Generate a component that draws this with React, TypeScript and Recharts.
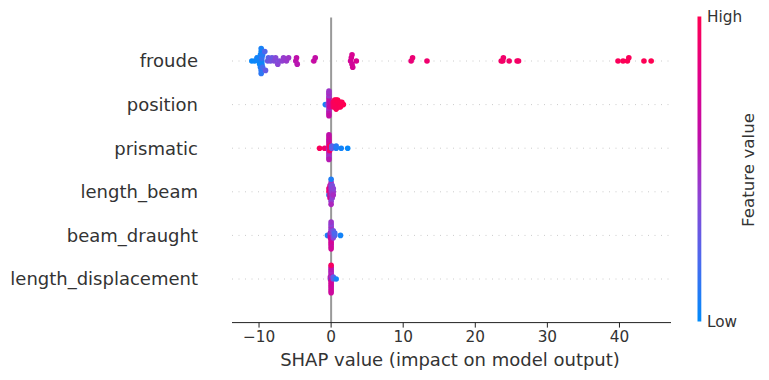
import { Cell, Customized, ReferenceLine, Scatter, ScatterChart, XAxis, YAxis } from 'recharts';

const features = ['froude', 'position', 'prismatic', 'length_beam', 'beam_draught', 'length_displacement'];
const xTicks = [-10, 0, 10, 20, 30, 40];

// shap value / normalised feature value per sample
const froudeShap = [
  -11.0, -10.6, -10.3, -10.1, -9.9, -9.9, -9.8, -9.8, -9.7, -9.7, -9.7, -9.7, -9.6, -9.6, -9.6, -9.5, -9.5,
  -9.2, -9.1, -8.8, -8.7, -8.4, -8.2, -7.9, -7.7, -7.4, -7.2, -6.8, -6.6, -6.2, -5.9, -4.9, -4.8, -4.7,
  -2.4, -2.2, 2.7, 2.8, 2.9, 2.9, 3.0, 3.5, 11.1, 11.3, 13.3, 23.6, 23.8, 23.9, 24.7, 25.8, 26.0,
  39.8, 40.5, 41.1, 41.3, 43.4, 44.4,
];
const froudeValue = [
  0.02, 0.03, 0.05, 0.04, 0.06, 0.02, 0.05, 0.08, 0.03, 0.1, 0.06, 0.12, 0.08, 0.15, 0.04, 0.1, 0.18,
  0.22, 0.28, 0.3, 0.26, 0.33, 0.3, 0.36, 0.38, 0.4, 0.37, 0.42, 0.44, 0.45, 0.47, 0.58, 0.6, 0.57,
  0.64, 0.62, 0.72, 0.74, 0.7, 0.75, 0.73, 0.76, 0.86, 0.88, 0.9, 0.92, 0.93, 0.91, 0.92, 0.94, 0.93,
  0.97, 0.98, 0.99, 0.97, 0.99, 1.0,
];

const positionShap = [
  -0.8, -0.5, -0.3, -0.3, -0.3, -0.3, -0.3, -0.3, -0.3, -0.3, -0.3, -0.3, -0.3, -0.3, -0.2, -0.2, -0.2,
  0.3, 0.3, 0.3, 0.5, 0.5, 0.5, 0.5, 0.7, 0.7, 0.7, 0.7, 0.7, 0.9, 0.9, 0.9, 0.9, 1.1, 1.1, 1.1,
  1.3, 1.3, 1.3, 1.5, 1.5, 1.7,
];
const positionValue = [
  0.05, 0.3, 0.45, 0.5, 0.42, 0.55, 0.48, 0.6, 0.52, 0.44, 0.58, 0.5, 0.62, 0.47, 0.55, 0.6, 0.65,
  0.92, 0.95, 0.93, 0.96, 0.97, 0.95, 0.98, 0.97, 0.96, 0.98, 0.99, 0.97, 0.98, 0.99, 0.97, 1.0, 0.98, 0.99, 0.97,
  1.0, 0.99, 0.98, 1.0, 0.99, 1.0,
];

const prismaticShap = [
  -1.6, -0.9, -0.3, -0.3, -0.3, -0.3, -0.3, -0.3, -0.3, -0.3, -0.3, -0.3, -0.3, -0.3, -0.2, -0.2, -0.2,
  0.1, 0.1, 0.7, 0.7, 1.4, 2.3,
];
const prismaticValue = [
  0.97, 0.9, 0.55, 0.6, 0.5, 0.65, 0.58, 0.7, 0.52, 0.62, 0.48, 0.66, 0.56, 0.6, 0.92, 0.95, 0.9,
  0.3, 0.25, 0.08, 0.1, 0.05, 0.02,
];

const lengthBeamShap = [
  -0.3, -0.3, -0.3, -0.15, -0.15, -0.15, -0.15, -0.15, 0.0, 0.0, 0.0, 0.0, 0.0, 0.0, 0.0, 0.0, 0.0,
  0.15, 0.15, 0.15, 0.15, 0.15, 0.3, 0.3, 0.3,
];
const lengthBeamValue = [
  0.95, 0.9, 0.1, 0.8, 0.75, 0.85, 0.7, 0.78, 0.5, 0.45, 0.55, 0.4, 0.6, 0.48, 0.42, 0.08, 0.52,
  0.4, 0.38, 0.45, 0.35, 0.42, 0.45, 0.4, 0.5,
];

const beamDraughtShap = [
  -0.5, -0.1, -0.1, -0.1, 0.0, 0.0, 0.0, 0.0, 0.0, 0.0, 0.0, 0.0, 0.0, 0.0, 0.0, 0.0, 0.0,
  0.3, 0.3, 0.3, 0.3, 0.5, 0.5, 1.3,
];
const beamDraughtValue = [
  0.08, 0.7, 0.68, 0.72, 0.6, 0.45, 0.65, 0.5, 0.7, 0.42, 0.68, 0.48, 0.72, 0.4, 0.66, 0.46, 0.7,
  0.38, 0.35, 0.4, 0.3, 0.25, 0.2, 0.05,
];

const lengthDispShap = [
  -0.1, -0.1, 0.0, 0.0, 0.0, 0.0, 0.0, 0.0, 0.0, 0.0, 0.0, 0.0, 0.0, 0.0, 0.0, 0.0, 0.0,
  0.3, 0.3, 0.7,
];
const lengthDispValue = [
  0.62, 0.6, 0.08, 0.55, 0.7, 0.5, 0.72, 0.58, 0.68, 0.52, 0.7, 0.56, 0.66, 0.6, 0.7, 0.95, 0.68,
  0.3, 0.25, 0.05,
];

const shapRows = [froudeShap, positionShap, prismaticShap, lengthBeamShap, beamDraughtShap, lengthDispShap];
const valueRows = [froudeValue, positionValue, prismaticValue, lengthBeamValue, beamDraughtValue, lengthDispValue];

// approximation of shap's red_blue colormap
const colorStops: [number, string][] = [
  [0, '#008bfb'],
  [0.2, '#4b69ee'],
  [0.4, '#8a45d5'],
  [0.5, '#a72cc2'],
  [0.6, '#bf0ea9'],
  [0.8, '#e0008a'],
  [1, '#ff0052'],
];

const hex = (c: string) => [1, 3, 5].map((i) => parseInt(c.slice(i, i + 2), 16));

function colorFor(v: number) {
  for (let i = 1; i < colorStops.length; i++) {
    const [o1, c1] = colorStops[i];
    const [o0, c0] = colorStops[i - 1];
    if (v <= o1) {
      const t = (v - o0) / (o1 - o0);
      const a = hex(c0);
      const b = hex(c1);
      return `rgb(${a.map((x, k) => Math.round(x + (b[k] - x) * t)).join(',')})`;
    }
  }
  return colorStops[colorStops.length - 1][1];
}

// same stacking as shap's beeswarm: 100 bins, alternate layers up/down
function swarm(shaps: number[]) {
  const nbins = 100;
  const min = Math.min(...shaps);
  const max = Math.max(...shaps);
  const quant = shaps.map((s) => Math.round((nbins * (s - min)) / (max - min + 1e-8)));
  const inds = shaps.map((_, i) => i).sort((a, b) => quant[a] - quant[b] || a - b);
  const ys = shaps.map(() => 0);
  let layer = 0;
  let last = -1;
  for (const i of inds) {
    if (quant[i] !== last) layer = 0;
    ys[i] = Math.ceil(layer / 2) * ((layer % 2) * 2 - 1);
    layer++;
    last = quant[i];
  }
  const m = Math.max(...ys) + 1;
  return ys.map((y) => y * 0.9 * (0.4 / m));
}

const points = shapRows.flatMap((shaps, row) => {
  const offs = swarm(shaps);
  return shaps.map((s, i) => ({ x: s, y: row - offs[i], color: colorFor(valueRows[row][i]) }));
});

const FeatureTick = (props: any) => (
  <text x={198} y={props.y} dy="0.35em" textAnchor="end" fontSize={18} fill="#333333">
    {features[props.payload.value]}
  </text>
);

const Extras = () => (
  <g>
    <defs>
      <linearGradient id="featureBar" x1="0" y1="1" x2="0" y2="0">
        {colorStops.map(([o, c]) => (
          <stop key={o} offset={o} stopColor={c} />
        ))}
      </linearGradient>
    </defs>
    <rect x={697.5} y={16.5} width={3.8} height={305} fill="url(#featureBar)" />
    <text x={707} y={16.5} dy="0.35em" fontSize={15.3} fill="#333333">High</text>
    <text x={707} y={321.5} dy="0.35em" fontSize={15.3} fill="#333333">Low</text>
    <text transform="translate(748,170) rotate(-90)" dy="0.35em" textAnchor="middle" fontSize={16.7} fill="#333333">
      Feature value
    </text>
    <text x={450} y={366} textAnchor="middle" fontSize={18} fill="#333333">
      SHAP value (impact on model output)
    </text>
  </g>
);

export default function App() {
  return (
    <div
      style={{
        position: 'absolute',
        left: 0,
        top: 0,
        width: 769,
        height: 380,
        background: '#fff',
        fontFamily: '"DejaVu Sans", sans-serif',
      }}
    >
      <ScatterChart width={769} height={380} margin={{ top: 17.4, right: 98, bottom: 17.4, left: 0 }}>
        <XAxis
          type="number"
          dataKey="x"
          domain={[-13.75, 47.15]}
          ticks={xTicks}
          allowDataOverflow
          height={40}
          stroke="#222222"
          tickSize={5}
          tickMargin={4}
          tick={{ fontSize: 15.3, fill: '#333333' }}
          tickFormatter={(v: number) => String(v).replace('-', '\u2212')}
        />
        <YAxis
          type="number"
          dataKey="y"
          domain={[-1, 6]}
          reversed
          ticks={[0, 1, 2, 3, 4, 5]}
          allowDataOverflow
          width={232}
          axisLine={false}
          tickLine={false}
          tick={<FeatureTick />}
        />
        {features.map((f, i) => (
          <ReferenceLine key={f} y={i} stroke="#cccccc" strokeWidth={1} strokeDasharray="1 5.5" />
        ))}
        <ReferenceLine x={0} stroke="#999999" strokeWidth={2} />
        <Scatter
          data={points}
          isAnimationActive={false}
          shape={(p: any) => <circle cx={p.cx} cy={p.cy} r={2.8} fill={p.payload.color} />}
        >
          {points.map((p, i) => (
            <Cell key={i} fill={p.color} />
          ))}
        </Scatter>
        <Customized component={Extras} />
      </ScatterChart>
    </div>
  );
}
